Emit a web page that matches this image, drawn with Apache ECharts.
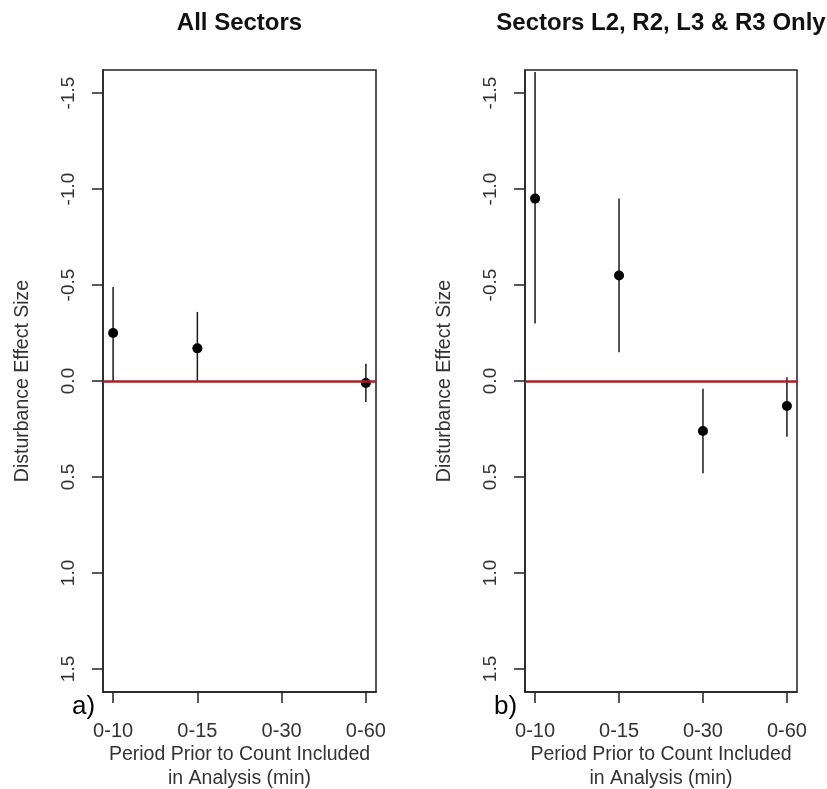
<!DOCTYPE html>
<html><head><meta charset="utf-8">
<script src="https://cdn.jsdelivr.net/npm/echarts@6/dist/echarts.min.js"></script>
<style>html,body{margin:0;padding:0;background:#fff}#c{width:827px;height:789px}</style>
</head><body><div id="c"></div>
<script>
// ---- data ----
const categories = ['0-10', '0-15', '0-30', '0-60'];
const yTicks = [-1.5, -1.0, -0.5, 0.0, 0.5, 1.0, 1.5];
// panel a: All Sectors
const allEst = [-0.25, -0.17, null, 0.01];
const allUpper = [-0.49, -0.36, null, -0.09];
const allLower = [0.0, 0.0, null, 0.11];
// panel b: Sectors L2, R2, L3 & R3 Only
const subEst = [-0.95, -0.55, 0.26, 0.13];
const subUpper = [-1.61, -0.95, 0.04, -0.02];
const subLower = [-0.30, -0.15, 0.48, 0.29];
const refLine = 0;
const panelTitles = ['All Sectors', 'Sectors L2, R2, L3 & R3 Only'];
const panelTags = ['a)', 'b)'];
const xName = 'Period Prior to Count Included\nin Analysis (min)';
const yName = 'Disturbance Effect Size';

// ---- chart ----
const FONT = '"Liberation Sans", Arial, Helvetica, sans-serif';
const tickPos = categories.map((c, i) => i + 1);
const panels = [
  {est: allEst, up: allUpper, lo: allLower},
  {est: subEst, up: subUpper, lo: subLower}
];
const grids = [
  {left: 103, top: 70, width: 273, height: 622},
  {left: 525, top: 70, width: 272, height: 622}
];

const chart = echarts.init(document.getElementById('c'), null, {renderer: 'canvas'});

function renderErr(params, api) {
  const x = api.value(0);
  const p1 = api.coord([x, api.value(1)]);
  const p2 = api.coord([x, api.value(2)]);
  return {
    type: 'line',
    shape: {x1: p1[0], y1: p1[1], x2: p2[0], y2: p2[1]},
    style: {stroke: '#1a1a1a', lineWidth: 1.5}
  };
}

const xAxes = [], yAxes = [], series = [], graphics = [];
grids.forEach((g, k) => {
  xAxes.push({
    gridIndex: k, type: 'value', min: 0.88, max: 4.12, position: 'bottom',
    splitLine: {show: false},
    axisLine: {show: true, onZero: false, lineStyle: {color: '#222', width: 1.5}},
    axisTick: {show: true, customValues: tickPos, length: 11, lineStyle: {color: '#222', width: 1.5}},
    axisLabel: {customValues: tickPos, formatter: v => categories[Math.round(v) - 1],
      fontSize: 20, color: '#333', margin: 29, fontFamily: FONT},
    name: xName, nameLocation: 'middle', nameGap: 51, nameMoveOverlap: false,
    nameTextStyle: {fontSize: 19.5, lineHeight: 23.5, color: '#333', fontFamily: FONT}
  });
  yAxes.push({
    gridIndex: k, type: 'value', inverse: true, min: -1.62, max: 1.62, position: 'left',
    splitLine: {show: false},
    axisLine: {show: true, onZero: false, lineStyle: {color: '#222', width: 1.5}},
    axisTick: {show: true, customValues: yTicks, length: 11, lineStyle: {color: '#222', width: 1.5}},
    axisLabel: {customValues: yTicks, rotate: 90, formatter: v => Number(v).toFixed(1),
      fontSize: 19, color: '#333', margin: 25, fontFamily: FONT},
    name: yName, nameLocation: 'middle', nameGap: 70, nameRotate: 90, nameMoveOverlap: false,
    nameTextStyle: {fontSize: 19.5, color: '#333', fontFamily: FONT}
  });
  const p = panels[k];
  const errData = [], ptData = [];
  tickPos.forEach((x, i) => {
    if (p.est[i] !== null) {
      errData.push([x, p.up[i], p.lo[i]]);
      ptData.push([x, p.est[i]]);
    }
  });
  series.push({
    type: 'custom', xAxisIndex: k, yAxisIndex: k, data: errData,
    encode: {x: 0, y: [1, 2]}, renderItem: renderErr, z: 2, silent: true
  });
  series.push({
    type: 'scatter', xAxisIndex: k, yAxisIndex: k, data: ptData,
    symbol: 'circle', symbolSize: 10, itemStyle: {color: '#000', opacity: 1}, z: 3, silent: true
  });
  series.push({
    type: 'scatter', xAxisIndex: k, yAxisIndex: k, data: [], z: 5, silent: true,
    markLine: {
      silent: true, symbol: 'none', label: {show: false},
      lineStyle: {color: '#a8202a', width: 2.5, type: 'solid', opacity: 1},
      data: [{yAxis: refLine}]
    }
  });
  graphics.push({
    type: 'text', x: g.left + g.width / 2, y: 23,
    style: {text: panelTitles[k], fill: '#111', font: 'bold 24px ' + FONT,
      textAlign: 'center', textVerticalAlign: 'middle'}
  });
  graphics.push({
    type: 'text', x: g.left - 31, y: 707,
    style: {text: panelTags[k], fill: '#000', font: '26px ' + FONT,
      textAlign: 'left', textVerticalAlign: 'middle'}
  });
});

chart.setOption({
  backgroundColor: '#fff',
  animation: false,
  grid: grids.map(g => Object.assign({show: true, borderColor: '#222', borderWidth: 1.5,
    backgroundColor: 'transparent', containLabel: false, outerBoundsMode: 'none'}, g)),
  xAxis: xAxes,
  yAxis: yAxes,
  series: series,
  graphic: graphics
});
</script>
</body></html>
